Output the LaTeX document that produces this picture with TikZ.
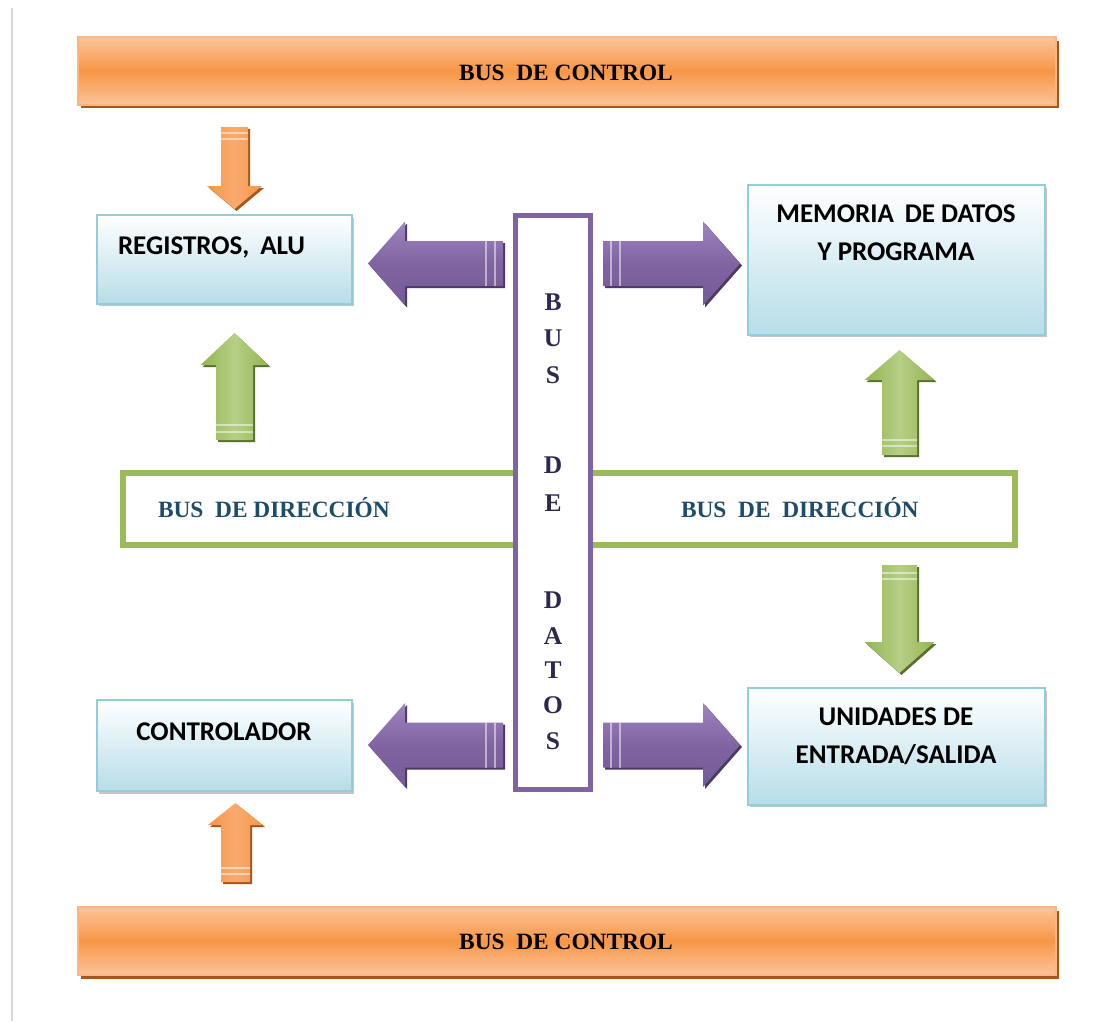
\documentclass[tikz,border=0pt]{standalone}
\usepackage{fontspec}
\setmainfont{Liberation Serif}
\newfontfamily\boxfont{Carlito}
\usetikzlibrary{shadows}

\definecolor{orangemain}{HTML}{F79646}
\definecolor{orangetop}{HTML}{FBC49A}
\definecolor{orangemid}{HTML}{F9AA70}
\definecolor{orangeedge}{HTML}{F9B585}
\definecolor{orangedark}{HTML}{A8541A}
\definecolor{greenmain}{HTML}{9BBB59}
\definecolor{greenedge}{HTML}{93B550}
\definecolor{greenlite}{HTML}{B6CF86}
\definecolor{greendark}{HTML}{5A7030}
\definecolor{purplemain}{HTML}{8064A2}
\definecolor{purplelite}{HTML}{9C86C0}
\definecolor{purplelow}{HTML}{735A96}
\definecolor{purpledark}{HTML}{4B3A63}
\definecolor{boxblue}{HTML}{B7DDE8}
\definecolor{boxedge}{HTML}{92CDDC}
\definecolor{dirtext}{HTML}{1E4D6B}
\definecolor{datatext}{HTML}{2F2750}

% horizontal block arrow: style, tail x, head base x, tip x, centre y, shaft half-width, head half-width
\newcommand\harrow[7]{%
  \path[#1 shadow, shift={(2,2)}] (#2,#5-#6) -- (#3,#5-#6) -- (#3,#5-#7) -- (#4,#5)
    -- (#3,#5+#7) -- (#3,#5+#6) -- (#2,#5+#6) -- cycle;
  \path[#1 body] (#2,#5-#6) -- (#3,#5-#6) -- (#3,#5-#7) -- (#4,#5)
    -- (#3,#5+#7) -- (#3,#5+#6) -- (#2,#5+#6) -- cycle;}
% vertical block arrow: style, centre x, tail y, head base y, tip y, shaft half-width, head half-width
\newcommand\varrow[7]{%
  \path[#1 shadow, shift={(2,2)}] (#2-#6,#3) -- (#2-#6,#4) -- (#2-#7,#4) -- (#2,#5)
    -- (#2+#7,#4) -- (#2+#6,#4) -- (#2+#6,#3) -- cycle;
  \path[#1 body] (#2-#6,#3) -- (#2-#6,#4) -- (#2-#7,#4) -- (#2,#5)
    -- (#2+#7,#4) -- (#2+#6,#4) -- (#2+#6,#3) -- cycle;}

\tikzset{
  every node/.style={inner sep=0pt, outer sep=0pt},
  serifbold/.style={font=\bfseries\fontsize{13.3}{16}\selectfont},
  sansbold/.style={font=\boxfont\bfseries\fontsize{15.4}{18}\selectfont, text=black},
  busbar/.style={draw=orangeedge, line width=0.03cm,
    top color=orangetop, bottom color=orangetop, middle color=orangemain,
    minimum width=19.56cm, minimum height=1.36cm,
    drop shadow={shadow xshift=0.06cm, shadow yshift=-0.07cm, fill=orangedark, opacity=1}},
  bluebox/.style={draw=boxedge, line width=0.03cm, top color=white, bottom color=boxblue,
    drop shadow={shadow xshift=0.04cm, shadow yshift=-0.05cm, fill=black!45, opacity=0.5}},
  dirbox/.style={draw=greenmain, line width=0.12cm, fill=white,
    minimum width=17.84cm, minimum height=1.44cm},
  databox/.style={draw=purplemain, line width=0.1cm, fill=white,
    minimum width=1.5cm, minimum height=11.48cm},
  dirlabel/.style={serifbold, text=dirtext, anchor=base west},
  dataletter/.style={font=\bfseries\fontsize{14.5}{17}\selectfont, text=datatext, anchor=base},
  parrow shadow/.style={fill=purpledark},
  parrow body/.style={top color=purplelite, bottom color=purplelow, middle color=purplemain},
  garrow shadow/.style={fill=greendark},
  garrow body/.style={left color=greenedge, right color=greenedge, middle color=greenlite},
  oarrow shadow/.style={fill=orangedark},
  oarrow body/.style={left color=orangemain, right color=orangemain, middle color=orangemid},
  stripe/.style={draw=white, line width=0.04cm, opacity=0.5},
}

\begin{document}
\begin{tikzpicture}[x=0.02cm, y=-0.02cm]
  \useasboundingbox (0,0) rectangle (1119,1021);
  \fill[white] (0,0) rectangle (1119,1021);
  % page edge
  \draw[line width=0.04cm, black!15] (12,8) -- (12,1021);

  % control buses
  \node[busbar] (ctltop) at (567,71) {};
  \node[serifbold, anchor=base] (ctltoptext) at (566,80) {BUS\hspace{0.5em}DE CONTROL};
  \node[busbar] (ctlbot) at (567,941) {};
  \node[serifbold, anchor=base] (ctlbottext) at (566,949) {BUS\hspace{0.5em}DE CONTROL};

  % address bus (behind the data bus)
  \node[dirbox] (dir) at (569,509) {};
  \node[dirlabel] (dirl) at (158,517) {BUS\hspace{0.5em}DE DIRECCIÓN};
  \node[dirlabel] (dirr) at (681,517) {BUS\hspace{0.5em}DE\hspace{0.5em}DIRECCIÓN};

  % data bus
  \node[databox] (data) at (553,502.5) {};
  \foreach \l/\yy [count=\i] in {B/302, U/338, S/375, D/465, E/503, D/600, A/636, T/670, O/705, S/741}
    \node[dataletter] (dl\i) at (553,\yy+8.5) {\l};

  % blocks
  \node[bluebox, minimum width=5.1cm, minimum height=1.78cm] (reg) at (224.5,259.5) {};
  \node[sansbold, anchor=base west] (regtext) at (118,254) {REGISTROS,\hspace{0.4em}ALU};
  \node[bluebox, minimum width=5.1cm, minimum height=1.82cm] (ctrl) at (224.5,745.5) {};
  \node[sansbold, anchor=base] (ctrltext) at (224,740) {CONTROLADOR};
  \node[bluebox, minimum width=5.94cm, minimum height=3.0cm] (mem) at (896.5,260) {};
  \node[sansbold, anchor=base] (mem1) at (896,222.5) {MEMORIA\hspace{0.4em}DE DATOS};
  \node[sansbold, anchor=base] (mem2) at (896,260.5) {Y PROGRAMA};
  \node[bluebox, minimum width=5.94cm, minimum height=2.34cm] (io) at (896.5,746.5) {};
  \node[sansbold, anchor=base] (io1) at (896,725.5) {UNIDADES DE};
  \node[sansbold, anchor=base] (io2) at (896,763.5) {ENTRADA/SALIDA};

  % data bus arrows
  \harrow{parrow}{503}{405}{368}{263.5}{22.5}{42}
  \harrow{parrow}{603}{703}{740}{263.5}{22.5}{42}
  \harrow{parrow}{503}{405}{368}{745}{22.5}{42}
  \harrow{parrow}{603}{703}{740}{745}{22.5}{42}
  \foreach \yy in {263.5,745} {
    \draw[stripe] (486,\yy-22.5) -- (486,\yy+22.5);
    \draw[stripe] (495,\yy-22.5) -- (495,\yy+22.5);
    \draw[stripe] (611,\yy-22.5) -- (611,\yy+22.5);
    \draw[stripe] (620,\yy-22.5) -- (620,\yy+22.5);
  }

  % address bus arrows
  \varrow{garrow}{234.5}{440}{365}{333}{18.5}{34}
  \varrow{garrow}{899.5}{455}{380}{350}{17.5}{35}
  \varrow{garrow}{899.5}{565}{642}{673}{17.5}{35}
  \draw[stripe] (216,425) -- (253,425);
  \draw[stripe] (216,432) -- (253,432);
  \draw[stripe] (882,440) -- (917,440);
  \draw[stripe] (882,446) -- (917,446);
  \draw[stripe] (882,573) -- (917,573);
  \draw[stripe] (882,579) -- (917,579);

  % control bus arrows
  \varrow{oarrow}{234.5}{127}{186}{209}{13.5}{27.5}
  \varrow{oarrow}{235.5}{882}{825}{803}{14.5}{27.5}
  \draw[stripe] (221,133) -- (248,133);
  \draw[stripe] (221,139) -- (248,139);
  \draw[stripe] (221,868) -- (250,868);
  \draw[stripe] (221,874) -- (250,874);
\end{tikzpicture}
\end{document}
